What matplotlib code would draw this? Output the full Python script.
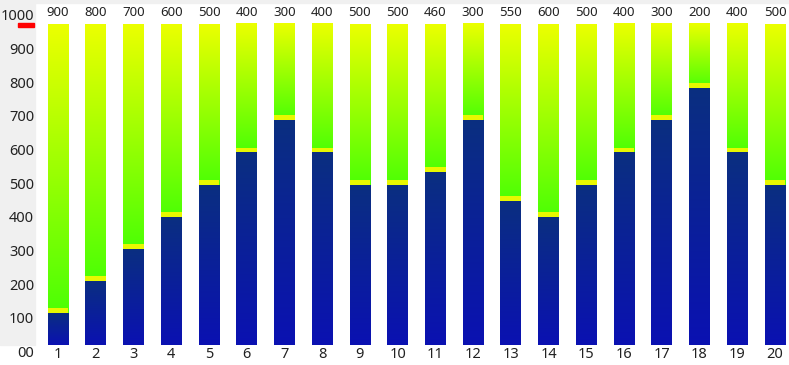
import numpy as np
import matplotlib
matplotlib.use('Agg')
import matplotlib.pyplot as plt
from matplotlib.colors import LinearSegmentedColormap
from matplotlib.patches import Rectangle

plt.rcParams['font.family'] = ['Noto Sans', 'DejaVu Sans']

# ---------- DATA ----------
categories = list(range(1, 21))
remaining = [900, 800, 700, 600, 500, 400, 300, 400, 500, 500,
             460, 300, 550, 600, 500, 400, 300, 200, 400, 500]
total = 1000
filled = [total - r for r in remaining]
ytick_values = [1000, 900, 800, 700, 600, 500, 400, 300, 200, 100, 0]
ytick_labels = ['1000', '900', '800', '700', '600', '500', '400', '300', '200', '100', '00']

W, H = 789, 365
fig = plt.figure(figsize=(W / 100, H / 100), dpi=100)

# gray header strip and left label panel
fig.patches.append(Rectangle((0, 1 - 3 / H), 1, 3 / H, transform=fig.transFigure,
                             color='#f0f0f0', zorder=0))
fig.patches.append(Rectangle((0, 1 - 345 / H), 35 / W, (345 - 3) / H,
                             transform=fig.transFigure, color='#f0f0f0', zorder=0))

ax = fig.add_axes([0, 0, 1, 1])
ax.patch.set_alpha(0)
# bar 1 centre at x=58 px, bar 20 at 775 px ; 0 at y=345 px, 1000 at y=24 px
sx = (775 - 58) / 19
sy = (345 - 24) / total
ax.set_xlim(1 - 58 / sx, 20 + (W - 775) / sx)
ax.set_ylim(-(H - 345) / sy, total + 24 / sy)
ax.axis('off')

blue_cmap = LinearSegmentedColormap.from_list('b', ['#0b11b2', '#0a2f80'])
green_cmap = LinearSegmentedColormap.from_list('g', ['#4cff05', '#ecff00'])
grad = np.linspace(0, 1, 256).reshape(-1, 1)

bw = 0.55
band = 15
for x, f, r in zip(categories, filled, remaining):
    ax.imshow(grad, cmap=blue_cmap, origin='lower', aspect='auto',
              extent=(x - bw / 2, x + bw / 2, 0, f), interpolation='bicubic', zorder=2)
    ax.imshow(grad, cmap=green_cmap, origin='lower', aspect='auto',
              extent=(x - bw / 2, x + bw / 2, f, total), interpolation='bicubic', zorder=2)
    ax.bar(x, band, bottom=f, width=bw, color='#e8f800', zorder=3)
    ax.text(x, total + 11 / sy, str(r), ha='center', va='center',
            fontsize=9.5, color='#222222')
    ax.text(x, -10 / sy, str(x), ha='center', va='center',
            fontsize=10.5, color='#222222')

# y labels on their own scale inside the gray panel
for v, lab in zip(ytick_values, ytick_labels):
    py = 353.5 - v * 0.3365
    fig.text(34 / W, 1 - py / H, lab, ha='right', va='center',
             fontsize=10.5, color='#222222')

# red marker under the top label
fig.patches.append(Rectangle((18 / W, 1 - 27 / H), 16 / W, 4 / H,
                             transform=fig.transFigure, color='#ff0000', zorder=5))

fig.savefig('out.png', dpi=100)
